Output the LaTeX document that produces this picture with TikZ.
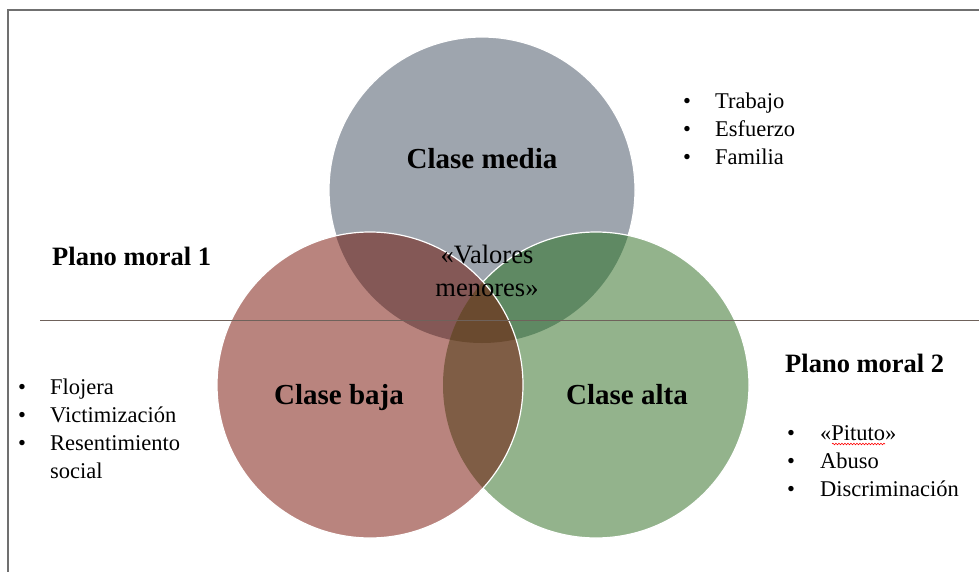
\documentclass[tikz,border=0pt]{standalone}
\usepackage{fontspec}
\setmainfont{Liberation Serif}
\usetikzlibrary{decorations.pathmorphing}
\definecolor{media}{HTML}{9EA5AE}
\definecolor{baja}{HTML}{B9847E}
\definecolor{alta}{HTML}{93B38C}
\definecolor{mediabaja}{HTML}{845856}
\definecolor{mediaalta}{HTML}{5F8963}
\definecolor{bajaalta}{HTML}{7F5D45}
\definecolor{triple}{HTML}{6A4A2F}
\definecolor{planecol}{HTML}{6F625B}
\definecolor{framecol}{HTML}{707070}
\tikzset{
  classlabel/.style={font=\fontsize{29}{34}\selectfont\bfseries,anchor=base,inner sep=0pt},
  planelabel/.style={font=\fontsize{26.5}{32}\selectfont\bfseries,anchor=base west,inner sep=0pt},
  itemlist/.style={font=\fontsize{22.5}{28}\selectfont,anchor=base west,inner sep=0pt},
  centrelabel/.style={font=\fontsize{26.5}{33}\selectfont,anchor=base,inner sep=0pt},
  vennedge/.style={draw=white,line width=1.2pt},
  planeline/.style={draw=planecol,line width=1pt},
  frameline/.style={draw=framecol,line width=2pt},
  spellwave/.style={draw=red,line width=0.6pt,decorate,decoration={snake,amplitude=0.8pt,segment length=3pt}}
}
\newcommand{\vennr}{153pt}

\begin{document}
\begin{tikzpicture}[x=1pt,y=-1pt]
  \useasboundingbox (0,0) rectangle (979,572);
  \fill[white] (0,0) rectangle (979,572);

  % slide frame
  \draw[frameline] (8,572) -- (8,10) -- (979,10);

  % circle centres
  \coordinate (cmedia) at (482,190);
  \coordinate (cbaja) at (370,385);
  \coordinate (calta) at (596,385);

  % Clase media
  \fill[media] (cmedia) circle[radius=\vennr];
  \draw[vennedge] (cmedia) circle[radius=\vennr];

  % Clase alta
  \fill[alta] (calta) circle[radius=\vennr];
  \begin{scope}
    \clip (calta) circle[radius=\vennr];
    \fill[mediaalta] (cmedia) circle[radius=\vennr];
  \end{scope}
  \draw[vennedge] (calta) circle[radius=\vennr];

  % Clase baja
  \fill[baja] (cbaja) circle[radius=\vennr];
  \begin{scope}
    \clip (cbaja) circle[radius=\vennr];
    \fill[mediabaja] (cmedia) circle[radius=\vennr];
    \fill[bajaalta] (calta) circle[radius=\vennr];
    \clip (cmedia) circle[radius=\vennr];
    \fill[triple] (calta) circle[radius=\vennr];
  \end{scope}
  \draw[vennedge] (cbaja) circle[radius=\vennr];

  % dividing line between the two planes
  \draw[planeline] (40,320) -- (979,320);

  % class names
  \node[classlabel] (lmedia) at (482,168) {Clase media};
  \node[classlabel] (lbaja) at (339,404) {Clase baja};
  \node[classlabel] (lalta) at (627,404) {Clase alta};
  \node[centrelabel] (lvalores) at (487,263) {\begin{tabular}[t]{@{}c@{}}«Valores\\menores»\end{tabular}};

  % planes
  \node[planelabel] (plano1) at (52,265) {Plano moral 1};
  \node[planelabel] (plano2) at (785,372) {Plano moral 2};

  % lists
  \node[itemlist] (listmedia) at (683,109) {\begin{tabular}[t]{@{}p{32pt}@{}l@{}}
    \textbullet & Trabajo\\
    \textbullet & Esfuerzo\\
    \textbullet & Familia
  \end{tabular}};
  \node[itemlist] (listbaja) at (18,394) {\begin{tabular}[t]{@{}p{32pt}@{}l@{}}
    \textbullet & Flojera\\
    \textbullet & Victimización\\
    \textbullet & Resentimiento\\
                & social
  \end{tabular}};
  \node[itemlist] (listalta) at (787,440) {\begin{tabular}[t]{@{}p{33pt}@{}l@{}}
    \textbullet & «Pituto»\\
    \textbullet & Abuso\\
    \textbullet & Discriminación
  \end{tabular}};
  \draw[spellwave] (832,444) -- (885,444);
\end{tikzpicture}
\end{document}
